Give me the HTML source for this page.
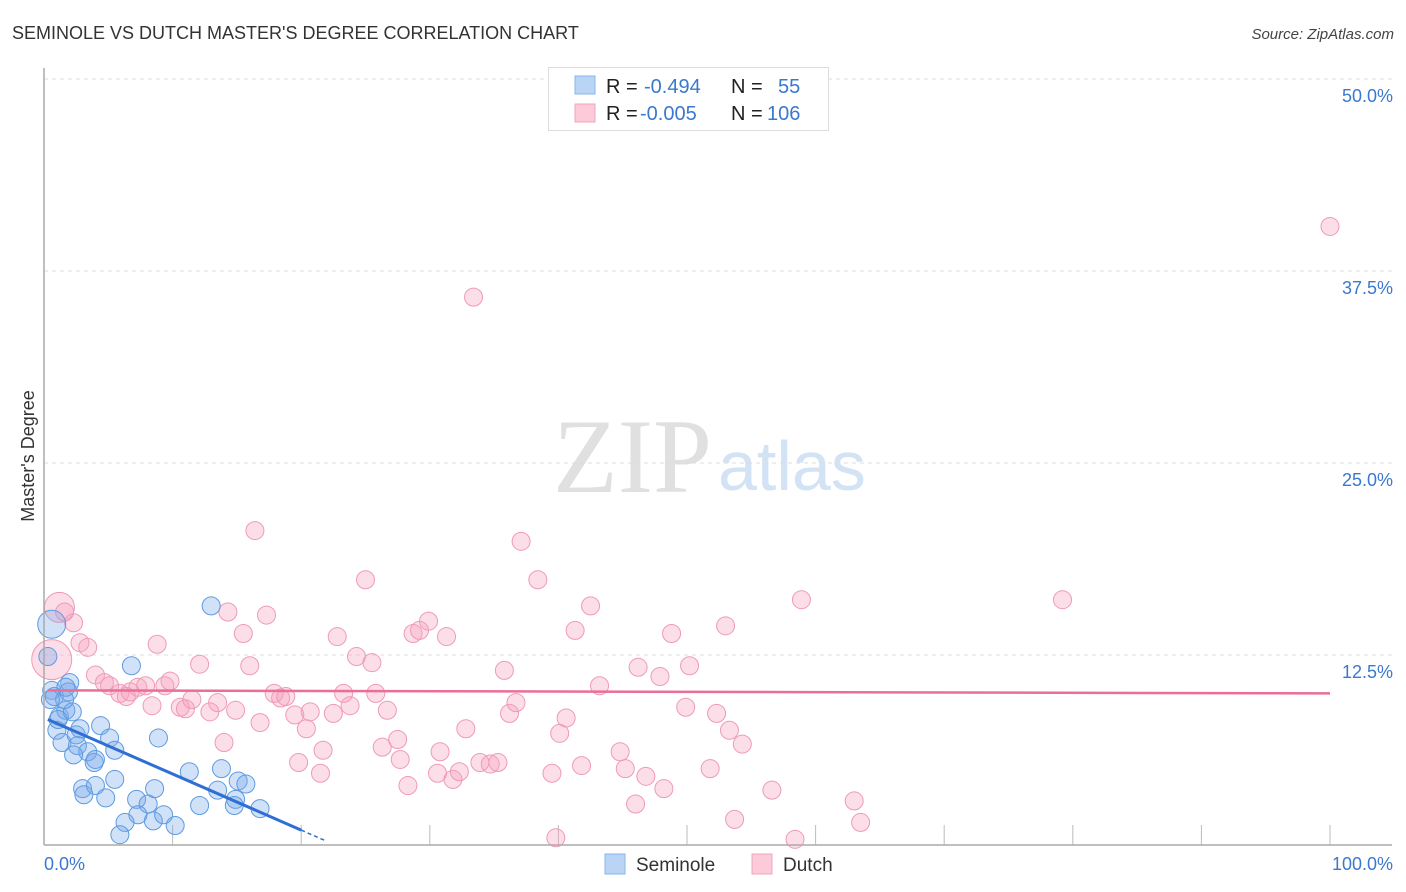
<!DOCTYPE html>
<html><head><meta charset="utf-8"><style>
body{margin:0;background:#fff;font-family:"Liberation Sans",sans-serif}
svg{display:block}
</style></head><body>
<svg id="c" width="1406" height="892">
<text x="12" y="39" font-size="18" fill="#333">SEMINOLE VS DUTCH MASTER'S DEGREE CORRELATION CHART</text>
<text x="1394" y="39" font-size="15" fill="#444" font-style="italic" text-anchor="end">Source: ZipAtlas.com</text>
<text x="34" y="456" font-size="18" fill="#333" text-anchor="middle" transform="rotate(-90 34 456)">Master's Degree</text>
<text x="553" y="492" font-size="106" fill="#e0e0e0" font-family="Liberation Serif,serif">ZIP</text>
<text x="718" y="490" font-size="70" fill="#d3e3f6">atlas</text>
<g id="grid"></g>
<g id="pts"></g>
<g id="trend"></g>
<line x1="44" y1="68" x2="44" y2="845" stroke="#aaa" stroke-width="1.5"/>
<line x1="44" y1="845" x2="1392" y2="845" stroke="#aaa" stroke-width="1.5"/>
<text x="44" y="870" font-size="18" fill="#3b78d0">0.0%</text>
<text x="1393" y="870" font-size="18" fill="#3b78d0" text-anchor="end">100.0%</text>
<g>
<rect x="548.5" y="67.5" width="280" height="63" fill="#fff" stroke="#ddd"/>
<rect x="575" y="76" width="20" height="18" fill="#b9d4f5" stroke="#8ab6ea"/>
<rect x="575" y="104" width="20" height="18" fill="#fccad9" stroke="#f1a4bd"/>
<text y="93" font-size="20" fill="#222"><tspan x="606">R = </tspan><tspan x="644" fill="#3b78d0">-0.494</tspan><tspan x="731">N = </tspan><tspan x="778" fill="#3b78d0">55</tspan></text>
<text y="120" font-size="20" fill="#222"><tspan x="606">R = </tspan><tspan x="640" fill="#3b78d0">-0.005</tspan><tspan x="731">N = </tspan><tspan x="767" fill="#3b78d0">106</tspan></text>
</g>
<g>
<rect x="605" y="854" width="20" height="20" fill="#b9d4f5" stroke="#8ab6ea"/>
<text x="636" y="871" font-size="19" fill="#333">Seminole</text>
<rect x="752" y="854" width="20" height="20" fill="#fccad9" stroke="#f1a4bd"/>
<text x="783" y="871" font-size="19" fill="#333">Dutch</text>
</g>
</svg>
<script>
const yTicks=[12.5,25,37.5,50];
const yTickLabels=["12.5%","25.0%","37.5%","50.0%"];
const seminoleX=[0.6,0.3,0.6,0.8,2.0,1.9,1.2,1.0,1.7,2.2,1.4,2.5,2.8,2.6,1.6,4.4,3.4,3.9,5.1,5.5,2.3,4.0,3.0,3.1,4.0,4.8,5.5,6.8,8.9,13.0,11.3,13.8,15.1,15.7,7.2,8.1,8.6,8.5,9.3,10.2,7.3,6.3,5.9,12.1,13.5,14.9,14.8,16.8,1.1,1.7,0.5];
const seminoleY=[14.5,12.4,10.2,9.8,10.7,10.1,8.5,7.6,8.9,8.8,6.8,7.3,7.7,6.6,9.6,7.9,6.2,5.5,7.1,6.3,6.0,5.7,3.8,3.4,4.0,3.2,4.4,11.8,7.1,15.7,4.9,5.1,4.3,4.1,3.1,2.8,3.8,1.7,2.1,1.4,2.1,1.6,0.8,2.7,3.7,3.1,2.7,2.5,8.3,10.4,9.6];
const dutchX=[1.2,0.6,1.6,2.3,2.8,3.4,4.0,4.7,5.1,5.9,6.4,6.7,7.3,7.9,8.4,8.8,9.4,9.8,10.6,11.0,11.5,12.1,12.9,13.5,14.0,14.3,14.9,15.5,16.0,16.4,16.8,17.3,17.9,18.4,18.8,19.5,19.8,20.4,20.7,21.5,21.7,22.5,22.8,23.3,23.8,24.3,25.0,25.5,25.8,26.3,26.7,27.5,27.7,28.3,28.7,29.2,29.9,30.6,30.8,31.3,31.8,32.3,32.8,33.4,33.9,34.7,35.3,35.8,36.2,36.7,37.1,38.4,39.5,39.8,40.1,40.6,41.3,41.8,42.5,43.2,44.8,45.2,46.0,46.2,46.8,47.9,48.2,48.8,49.9,50.2,51.8,52.3,53.0,53.3,53.7,54.3,56.6,58.4,58.9,63.0,63.5,79.2,100.0];
const dutchY=[15.6,12.2,15.3,14.6,13.3,13.0,11.2,10.7,10.5,10.0,9.8,10.1,10.4,10.5,9.2,13.2,10.5,10.8,9.1,9.0,9.6,11.9,8.8,9.4,6.8,15.3,8.9,13.9,11.8,20.6,8.1,15.1,10.0,9.7,9.8,8.6,5.5,7.7,8.8,4.8,6.3,8.7,13.7,10.0,9.2,12.4,17.4,12.0,10.0,6.5,8.9,7.0,5.7,4.0,13.9,14.1,14.7,4.8,6.2,13.7,4.4,4.9,7.7,35.8,5.5,5.4,5.5,11.5,8.7,9.4,19.9,17.4,4.8,0.6,7.4,8.4,14.1,5.3,15.7,10.5,6.2,5.1,2.8,11.7,4.6,11.1,3.8,13.9,9.1,11.8,5.1,8.7,14.4,7.6,1.8,6.7,3.7,0.5,16.1,3.0,1.6,16.1,40.4];
const seminoleTrend=[8.3,1.1];
const dutchTrend=[10.2,10.0];
const NS="http://www.w3.org/2000/svg";
const sx=v=>44+v*12.86, sy=v=>847-v*15.36;
function mk(t,a,p){const e=document.createElementNS(NS,t);for(const k in a)e.setAttribute(k,a[k]);p.appendChild(e);return e;}
const grid=document.getElementById('grid');
yTicks.forEach((t,i)=>{
 const l=mk('line',{x1:44,x2:1392,y1:sy(t),y2:sy(t),stroke:'#ddd','stroke-dasharray':'4,4'},grid);
 
 
 const tx=mk('text',{x:1393,y:sy(t)+23,'font-size':18,fill:'#3b78d0','text-anchor':'end'},grid);
 tx.textContent=yTickLabels[i];
 
 
});
for(let i=0;i<=10;i++){
 const l=mk('line',{x1:sx(i*10),x2:sx(i*10),y1:825,y2:845,stroke:'#bbb'},grid);
 
 
}
const pts=document.getElementById('pts');
dutchX.forEach((x,i)=>{
 const r=i==0?15:(i==1?20:9);
 const c=mk('circle',{cx:sx(x),cy:sy(dutchY[i]),r:r,fill:'rgba(246,160,188,0.35)',stroke:'#ef9ab7','stroke-width':1},pts);
 
 
});
seminoleX.forEach((x,i)=>{
 const r=i==0?14:9;
 const c=mk('circle',{cx:sx(x),cy:sy(seminoleY[i]),r:r,fill:'rgba(120,170,235,0.35)',stroke:'#5e9be0','stroke-width':1},pts);
 
 
});
const tr=document.getElementById('trend');
const bY=x=>seminoleTrend[0]+(seminoleTrend[1]-seminoleTrend[0])*(x-0.3)/(20-0.3);
let l=mk('line',{x1:sx(0.3),y1:sy(bY(0.3)),x2:sx(20),y2:sy(bY(20)),stroke:'#2f6fd4','stroke-width':3},tr);


l=mk('line',{x1:sx(20),y1:sy(bY(20)),x2:sx(22),y2:sy(bY(22)),stroke:'#2f6fd4','stroke-width':1.5,'stroke-dasharray':'4,3'},tr);


l=mk('line',{x1:sx(0.3),y1:sy(dutchTrend[0]),x2:sx(100),y2:sy(dutchTrend[1]),stroke:'#ea6e98','stroke-width':2.5},tr);


</script>
</body></html>
